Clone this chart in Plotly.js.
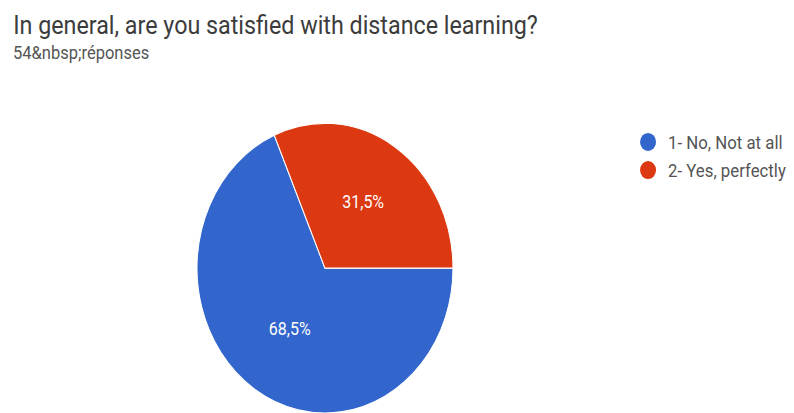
<!DOCTYPE html>
<html>
<head>
<meta charset="utf-8">
<script src="https://cdn.plot.ly/plotly-3.0.1.min.js"></script>
<style>
html{margin:0;padding:0;background:#fff;overflow:hidden;}
body{margin:0;padding:0;background:#fff;width:794px;height:413px;overflow:visible;}
#chart{width:794px;height:365px;transform:scaleY(1.1315);transform-origin:0 0;}
</style>
</head>
<body>
<div id="chart"></div>
<script>
const labels = ["1- No, Not at all", "2- Yes, perfectly"];
const counts = [37, 17];
const colors = ["#3366cc", "#dc3912"];
const titleText = "In general, are you satisfied with distance learning?";
const subtitleText = "54&amp;nbsp;réponses";

const W = 794, H = 365;
const FONT = "Roboto, Arial, sans-serif";

const traces = [{
  type: "pie",
  labels: labels,
  values: counts,
  sort: false,
  direction: "clockwise",
  rotation: 90,
  marker: {colors: colors, line: {color: "#ffffff", width: 1}},
  texttemplate: "%{percent:.1%}",
  textposition: "inside",
  insidetextfont: {color: "#ffffff", size: 16, family: FONT},
  domain: {x: [0.2481, 0.5705], y: [0, 0.7014]},
  showlegend: false,
  hoverinfo: "label+percent"
}];
labels.forEach((lab, i) => {
  traces.push({
    type: "scatter", mode: "markers", x: [null], y: [null],
    name: lab, marker: {color: colors[i], size: 16, symbol: "circle"},
    showlegend: true, hoverinfo: "skip"
  });
});

const layout = {
  width: W, height: H,
  margin: {l: 0, r: 0, t: 0, b: 0},
  paper_bgcolor: "#ffffff", plot_bgcolor: "#ffffff",
  separators: ", ",
  xaxis: {visible: false}, yaxis: {visible: false},
  showlegend: true,
  legend: {x: 0.791, y: 0.704, xanchor: "left", yanchor: "top",
    font: {size: 16.8, color: "#555555", family: FONT},
    itemwidth: 30},
  annotations: [
    {text: titleText, xref: "paper", yref: "paper", x: 11/W, y: 1 - 22/H,
     xanchor: "left", yanchor: "middle", showarrow: false,
     font: {size: 23.3, color: "#3c3c3c", family: FONT}},
    {text: subtitleText, xref: "paper", yref: "paper", x: 11/W, y: 1 - 46/H,
     xanchor: "left", yanchor: "middle", showarrow: false,
     font: {size: 16.5, color: "#555555", family: FONT}}
  ]
};
Plotly.newPlot("chart", traces, layout, {displayModeBar: false, staticPlot: true});
</script>
</body>
</html>
